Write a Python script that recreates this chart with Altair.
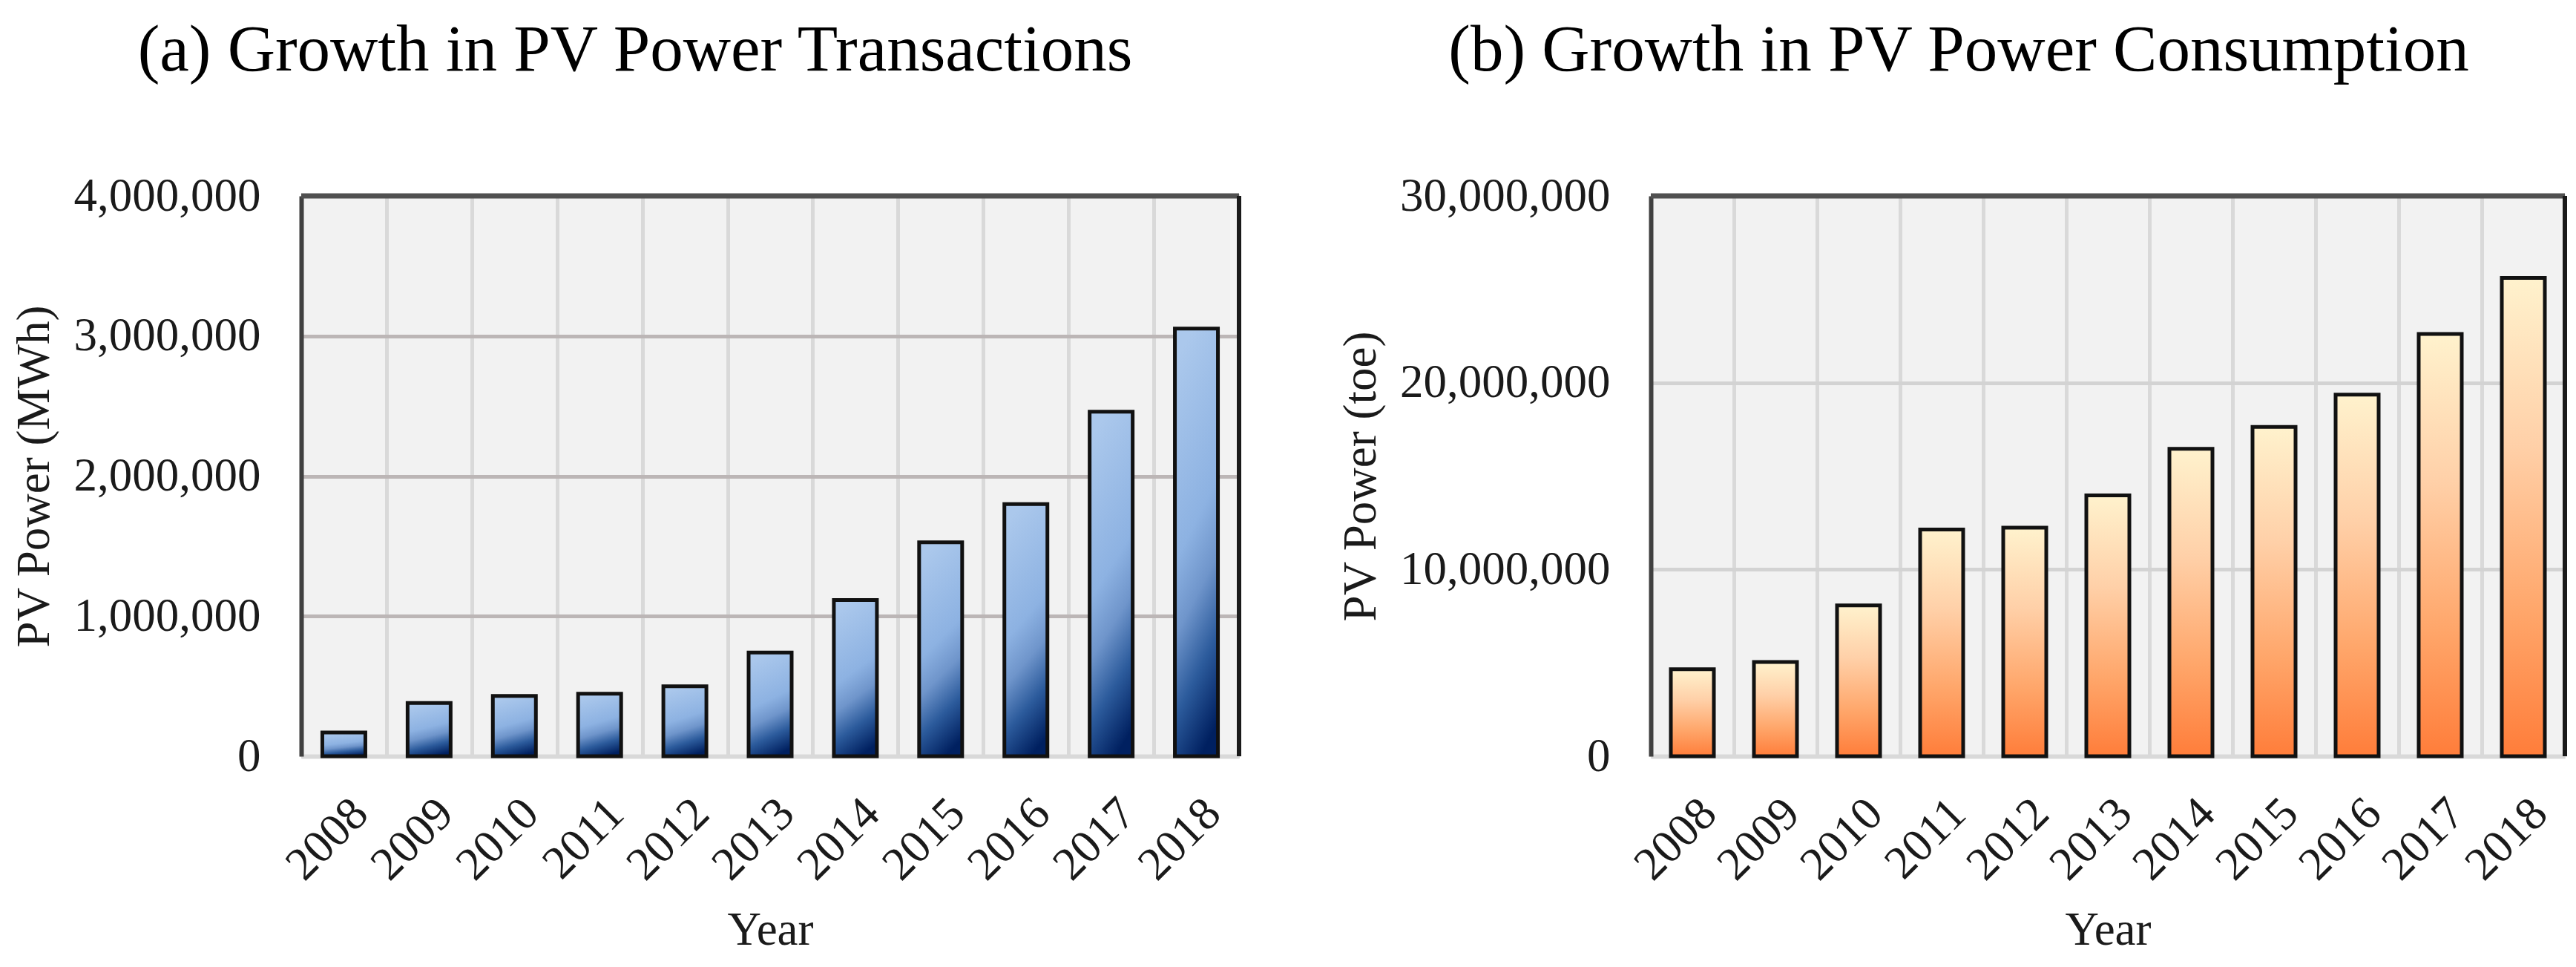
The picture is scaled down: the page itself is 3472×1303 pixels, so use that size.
import altair as alt
import pandas as pd

years = ["2008", "2009", "2010", "2011", "2012", "2013", "2014", "2015", "2016", "2017", "2018"]
transactions_mwh = [170000, 380000, 430000, 447000, 500000, 740000, 1115000, 1527000, 1800000, 2460000, 3053000]
consumption_toe = [4660000, 5050000, 8080000, 12140000, 12240000, 13970000, 16460000, 17630000, 19360000, 22610000, 25610000]

ticks_a = [0, 1000000, 2000000, 3000000, 4000000]
ticks_b = [0, 10000000, 20000000, 30000000]

FONT = "Liberation Serif"
H = 755

blue_grad = alt.Gradient(
    gradient="linear", x1=0.4, y1=0, x2=0.6, y2=1,
    stops=[
        alt.GradientStop(color="#abc8ec", offset=0),
        alt.GradientStop(color="#8db2e2", offset=0.45),
        alt.GradientStop(color="#6f95cb", offset=0.62),
        alt.GradientStop(color="#2c5b9c", offset=0.8),
        alt.GradientStop(color="#002060", offset=1),
    ],
)
orange_grad = alt.Gradient(
    gradient="linear", x1=0.5, y1=0, x2=0.5, y2=1,
    stops=[
        alt.GradientStop(color="#fff2cd", offset=0),
        alt.GradientStop(color="#ffd0a8", offset=0.35),
        alt.GradientStop(color="#ffa66a", offset=0.7),
        alt.GradientStop(color="#ff7d3a", offset=1),
    ],
)


def panel(values, title, ytitle, dmax, ticks, grad, hgrid, W, tdx, ytx):
    df = pd.DataFrame({"Year": years, "Value": values})
    bars = alt.Chart(df).mark_bar(
        size=58, fill=grad, stroke="#111111", strokeWidth=5
    ).encode(
        x=alt.X(
            "Year:N", sort=years, title="Year",
            scale=alt.Scale(paddingInner=0, paddingOuter=0),
            axis=alt.Axis(
                tickBand="extent", grid=True, gridColor="#d9d9d9", gridWidth=5,
                ticks=False, domainColor="#d9d9d9", domainWidth=6,
                labelAngle=-45, labelPadding=45, titlePadding=25,
                labelFontSize=63, titleFontSize=63, labelLimit=500,
            ),
        ),
        y=alt.Y(
            "Value:Q", title=ytitle,
            scale=alt.Scale(domain=[0, dmax], nice=False),
            axis=alt.Axis(
                values=ticks, format=",.0f", grid=True, gridColor=hgrid, gridWidth=5,
                ticks=False, domainColor="#404040", domainWidth=6,
                labelPadding=55, labelLimit=500,
                labelFontSize=63, titleFontSize=63,
                titleX=ytx, titleY=H / 2, titleAngle=270,
                titleAlign="center", titleBaseline="middle",
            ),
        ),
    )
    one = pd.DataFrame({"k": [0]})
    top = alt.Chart(one).mark_rule(color="#505050", strokeWidth=7).encode(
        x=alt.value(0), x2=alt.value(W), y=alt.value(0)
    )
    right = alt.Chart(one).mark_rule(color="#1a1a1a", strokeWidth=6).encode(
        x=alt.value(W), y=alt.value(0), y2=alt.value(H)
    )
    return alt.layer(bars, top, right).properties(
        width=W, height=H,
        title=alt.TitleParams(
            title, fontSize=89, font=FONT, fontWeight="normal", color="#000000",
            anchor="middle", frame="group", dx=tdx, offset=119,
        ),
    )


left = panel(transactions_mwh, "(a) Growth in PV Power Transactions", "PV Power (MWh)",
             4000000, ticks_a, blue_grad, "#bcb6b6", 1264, -182, -360)
right = panel(consumption_toe, "(b) Growth in PV Power Consumption", "PV Power (toe)",
              30000000, ticks_b, orange_grad, "#d3d3d3", 1232, -201, -391)

chart = alt.hconcat(left, right, spacing=129).properties(
    padding={"left": 7, "top": 16, "right": 3, "bottom": 5},
    background="white",
).configure_view(
    stroke=None, fill="#f2f2f2"
).configure_axis(
    labelFont=FONT, titleFont=FONT, labelColor="#1a1a1a", titleColor="#1a1a1a",
    titleFontWeight="normal",
)

chart.save("out.html", embed_options={"renderer": "svg", "actions": False})
